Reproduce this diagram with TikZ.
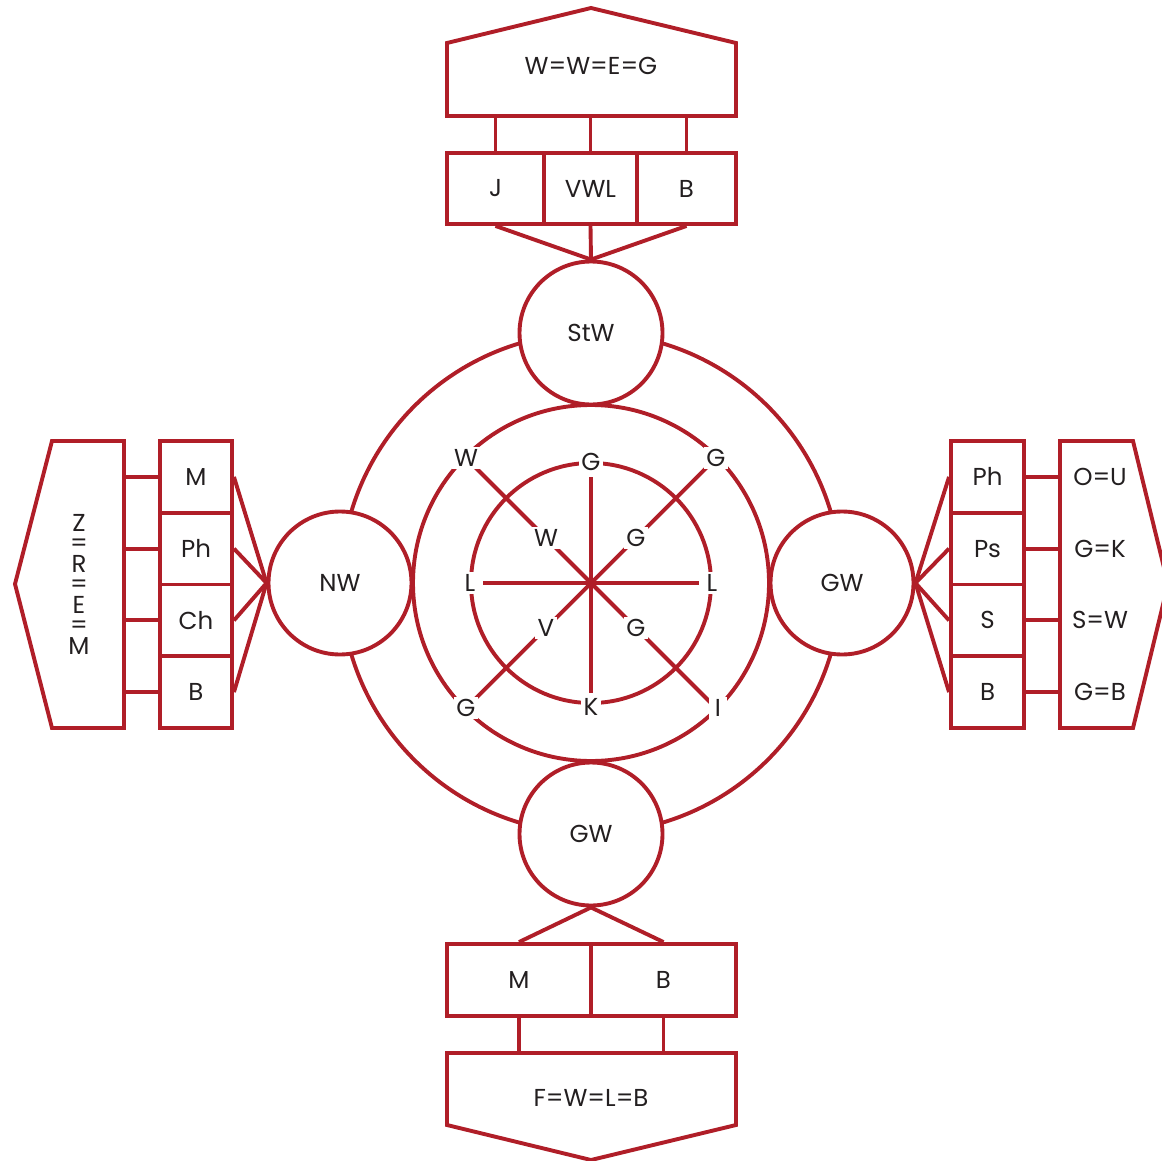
\documentclass[tikz,border=0pt]{standalone}
\usepackage{fontspec}
\setmainfont{Poppins}
\definecolor{dr}{RGB}{176,30,40}
\definecolor{tx}{RGB}{35,31,32}
\begin{document}
\begin{tikzpicture}[x=1pt,y=-1pt,
  every node/.style={font=\fontsize{24.5}{27}\selectfont, text=tx},
  ln/.style={draw=dr, line width=3.9pt},
  bx/.style={draw=dr, line width=3.9pt, rectangle, inner sep=0pt},
  cir/.style={draw=dr, line width=3.9pt, circle, minimum size=143pt, inner sep=0pt, fill=white},
  lab/.style={fill=white, inner sep=2.5pt},
  txt/.style={inner sep=0pt}]
\useasboundingbox (0,0) rectangle (1162,1161);
\clip (0,0) rectangle (1162,1161);
% rings
\coordinate (c) at (591,583);
\draw[ln] (c) circle[radius=250pt];
\draw[ln] (c) circle[radius=178pt];
\draw[ln] (c) circle[radius=120pt];
% spokes
\coordinate (pW) at (466,458);
\coordinate (pG1) at (716,458);
\coordinate (pG2) at (466,708);
\coordinate (pI) at (718,708);
\draw[ln] (483,583) -- (699,583);
\draw[ln] (591,477) -- (591,693);
\draw[ln] (pW) -- (c) -- (716,708);
\draw[ln] (pG1) -- (pG2);
\node[lab] (oW) at (pW) {W};
\node[lab] (oG1) at (pG1) {G};
\node[lab] (oG2) at (pG2) {G};
\node[lab, inner xsep=6pt] (oI) at (pI) {I};
\node[lab] (iW) at (546,538) {W};
\node[lab] (iG1) at (636,538) {G};
\node[lab] (iV) at (546,628) {V};
\node[lab] (iG2) at (636,628) {G};
\node[lab] (rG) at (591,462) {G};
\node[lab] (rL1) at (470,583) {L};
\node[lab] (rL2) at (712,583) {L};
\node[lab] (rK) at (591,707) {K};
% circles
\node[cir] (StW) at (591,333) {StW};
\node[cir] (NW) at (340,583) {NW};
\node[cir] (GWr) at (842,583) {GW};
\node[cir] (GWb) at (591,834) {GW};
% top
\draw[ln] (447,116) -- (447,43) -- (591,8) -- (736,43) -- (736,116) -- cycle;
\node[txt] (tp) at (591,66) {W=W=E=G};
\coordinate (tpb) at (591,116);
\node[bx, minimum width=97pt, minimum height=71pt] (J) at (495.5,188.5) {J};
\node[bx, minimum width=93pt, minimum height=71pt] (VWL) at (590.5,188.5) {VWL};
\node[bx, minimum width=99pt, minimum height=71pt] (Bt) at (686.5,188.5) {B};
\foreach \n in {J,VWL,Bt} {
  \draw[ln] (\n.north) -- (\n.north |- tpb);
  \draw[ln] (\n.south) -- (StW.north);
}
% left
\draw[ln] (124,441) -- (52,441) -- (15,584) -- (52,728) -- (124,728) -- cycle;
\node[txt, align=center, font=\fontsize{24.5}{20.5}\selectfont] (lp) at (79,584) {Z\\=\\R\\=\\E\\=\\M};
\coordinate (lpr) at (124,584);
\node[bx, minimum width=72pt, minimum height=71.75pt] (LM) at (196,476.9) {M};
\node[bx, minimum width=72pt, minimum height=71.75pt] (LPh) at (196,548.6) {Ph};
\node[bx, minimum width=72pt, minimum height=71.75pt] (LCh) at (196,620.4) {Ch};
\node[bx, minimum width=72pt, minimum height=71.75pt] (LB) at (196,692.1) {B};
\foreach \n in {LM,LPh,LCh,LB} {
  \draw[ln] (\n.west) -- (\n.west -| lpr);
  \draw[ln] (\n.east) -- (NW.west);
}
% right
\draw[ln] (1060,441) -- (1133,441) -- (1168,584) -- (1133,728) -- (1060,728) -- cycle;
\coordinate (rpl) at (1060,584);
\node[bx, minimum width=73pt, minimum height=71.75pt] (RPh) at (987.5,476.9) {Ph};
\node[bx, minimum width=73pt, minimum height=71.75pt] (RPs) at (987.5,548.6) {Ps};
\node[bx, minimum width=73pt, minimum height=71.75pt] (RS) at (987.5,620.4) {S};
\node[bx, minimum width=73pt, minimum height=71.75pt] (RB) at (987.5,692.1) {B};
\node[txt] (r1) at (1100,476.9) {O=U};
\node[txt] (r2) at (1100,548.6) {G=K};
\node[txt] (r3) at (1100,620.4) {S=W};
\node[txt] (r4) at (1100,692.1) {G=B};
\foreach \n in {RPh,RPs,RS,RB} {
  \draw[ln] (\n.east) -- (\n.east -| rpl);
  \draw[ln] (\n.west) -- (GWr.east);
}
% bottom
\node[bx, minimum width=144pt, minimum height=72pt] (BM) at (519,980) {M};
\node[bx, minimum width=145pt, minimum height=72pt] (BB) at (663.5,980) {B};
\draw[ln] (447,1053) -- (736,1053) -- (736,1125) -- (591,1160) -- (447,1125) -- cycle;
\coordinate (bpt) at (591,1053);
\node[txt] (bp) at (591,1098) {F=W=L=B};
\foreach \n in {BM,BB} {
  \draw[ln] (\n.south) -- (\n.south |- bpt);
  \draw[ln] (\n.north) -- (GWb.south);
}
\end{tikzpicture}
\end{document}
